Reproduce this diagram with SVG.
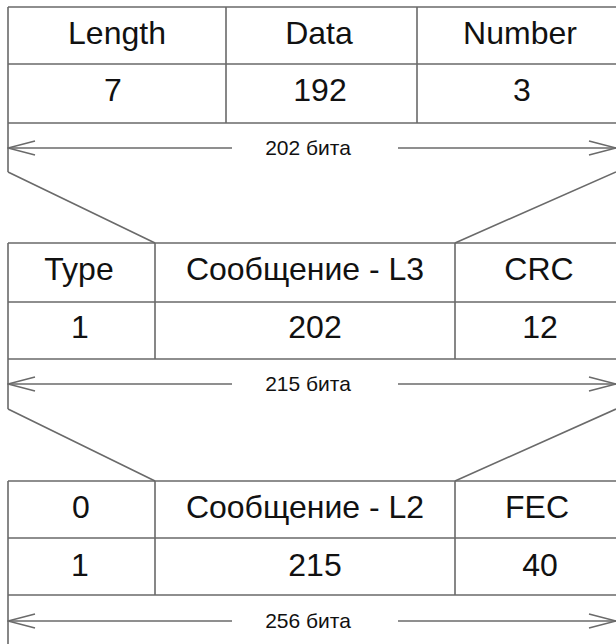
<svg xmlns="http://www.w3.org/2000/svg" width="616" height="644" viewBox="0 0 616 644">
<style>
.ln{stroke:#6a6a6a;stroke-width:1.6;fill:none}
.t{font-family:"Liberation Sans",Arial,sans-serif;font-size:32px;fill:#111;text-anchor:middle}
.b{font-family:"Liberation Sans",Arial,sans-serif;font-size:21px;fill:#111;text-anchor:middle}
</style>
<defs>
<marker id="ah" viewBox="0 0 30 16" refX="29" refY="8" markerWidth="30" markerHeight="16" markerUnits="userSpaceOnUse" orient="auto-start-reverse">
<path d="M2,1 L29,8 L2,15" fill="none" stroke="#6a6a6a" stroke-width="1.6"/>
</marker>
</defs>
<rect width="616" height="644" fill="#fff"/>

<g id="table-l3-fields">
<path class="ln" d="M8,7H616M8,64H616M8,123H616M8,7V172M226,7V123M417,7V123"/>
<text class="t" x="117" y="44">Length</text>
<text class="t" x="319" y="44">Data</text>
<text class="t" x="520" y="44">Number</text>
<text class="t" x="113" y="101">7</text>
<text class="t" x="320" y="101">192</text>
<text class="t" x="522" y="101">3</text>
<text class="b" x="308" y="155">202 бита</text>
</g>

<g id="table-l3-frame">
<path class="ln" d="M8,243H616M8,302H616M8,359H616M8,243V409M155,243V359M455,243V359"/>
<text class="t" x="79" y="280">Type</text>
<text class="t" x="305" y="280">Сообщение - L3</text>
<text class="t" x="539" y="280">CRC</text>
<text class="t" x="80" y="338">1</text>
<text class="t" x="315" y="338">202</text>
<text class="t" x="540" y="338">12</text>
<text class="b" x="308" y="391">215 бита</text>
</g>

<g id="table-l2-frame">
<path class="ln" d="M8,481H616M8,538H616M8,595H616M8,481V644M155,481V595M455,481V595"/>
<text class="t" x="81" y="518">0</text>
<text class="t" x="305" y="518">Сообщение - L2</text>
<text class="t" x="537" y="518">FEC</text>
<text class="t" x="80" y="576">1</text>
<text class="t" x="315" y="576">215</text>
<text class="t" x="540" y="576">40</text>
<text class="b" x="308" y="628">256 бита</text>
</g>

<g id="connectors">
<path class="ln" d="M8,172L155,243M616,172L455,243"/>
<path class="ln" d="M8,409L155,481M616,409L455,481"/>
<line class="ln" x1="232" y1="148" x2="8" y2="148" marker-end="url(#ah)"/>
<line class="ln" x1="398" y1="148" x2="616" y2="148" marker-end="url(#ah)"/>
<line class="ln" x1="232" y1="384" x2="8" y2="384" marker-end="url(#ah)"/>
<line class="ln" x1="398" y1="384" x2="616" y2="384" marker-end="url(#ah)"/>
<line class="ln" x1="232" y1="621" x2="8" y2="621" marker-end="url(#ah)"/>
<line class="ln" x1="398" y1="621" x2="616" y2="621" marker-end="url(#ah)"/>
</g>
</svg>
